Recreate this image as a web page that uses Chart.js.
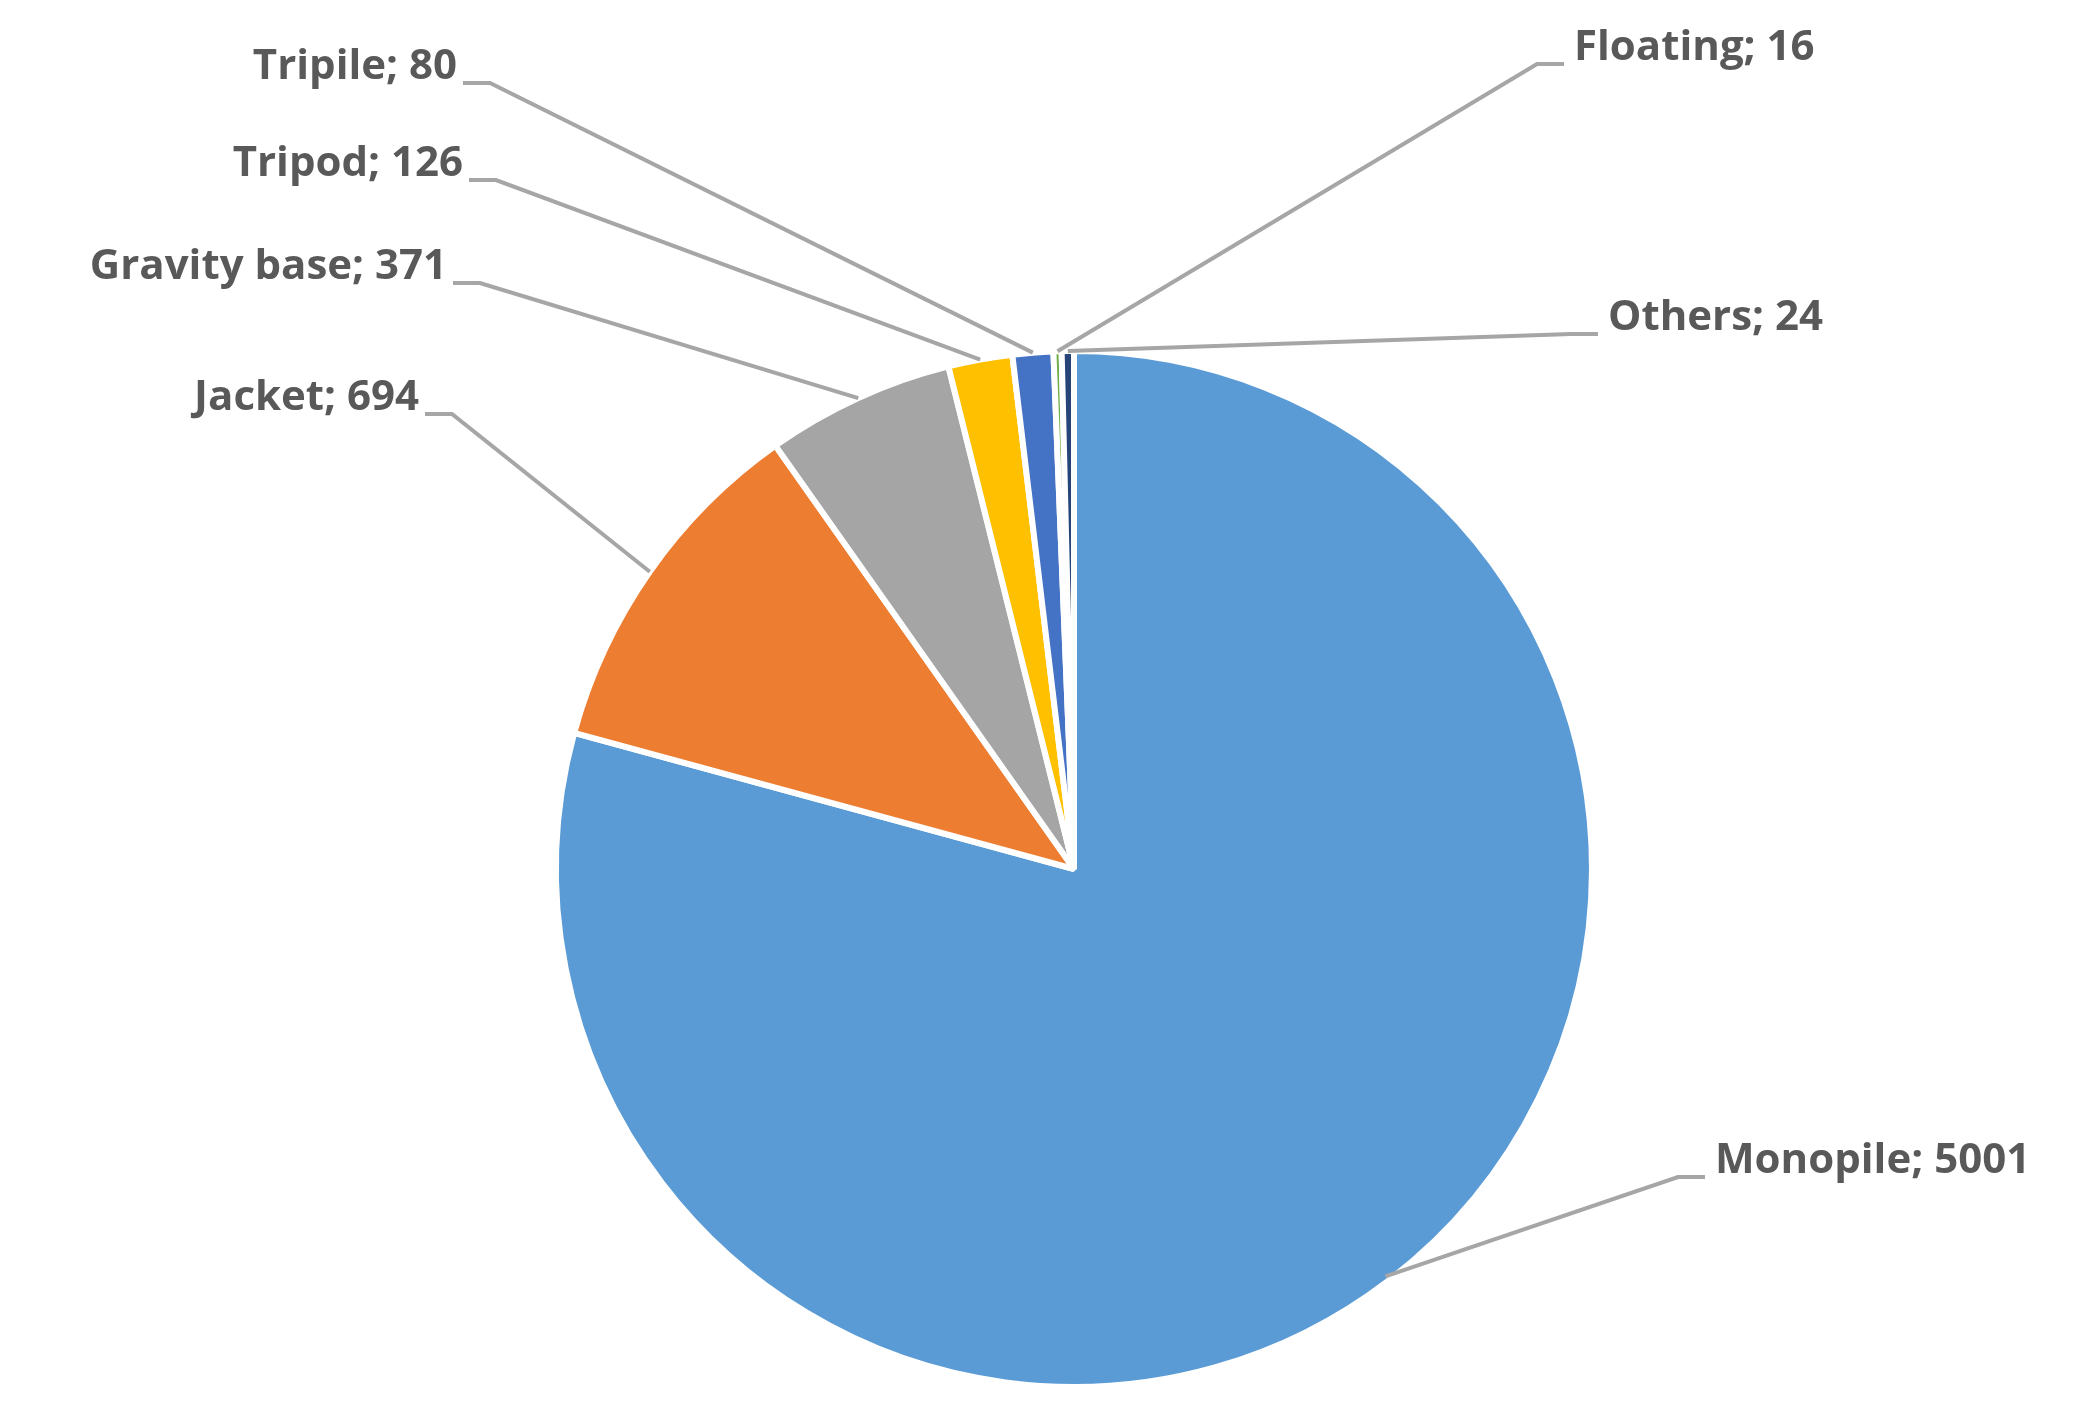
<!DOCTYPE html>
<html lang="en">
    <head>
        <title> Foundation types </title>
        <script src="https://cdn.jsdelivr.net/npm/chart.js@4.4.1/dist/chart.umd.min.js"></script>
        <style>
            html, body { margin: 0; padding: 0; background: #ffffff; }
        </style>
    </head>

    <body>
        <canvas id="myChart" width="2086" height="1402"></canvas>
        <script>

            const categories = ['Monopile', 'Jacket', 'Gravity base', 'Tripod', 'Tripile', 'Floating', 'Others'];
            const counts = [5001, 694, 371, 126, 80, 16, 24];
            const colors = ['#5B9BD5', '#ED7D31', '#A5A5A5', '#FFC000', '#4472C4', '#70AD47', '#264478'];

            // where each label sits: text anchor x, y, side, and the short horizontal elbow
            const labelPlaces = [
                { x: 1718, y: 1177, side: 'right', elbow: [1678, 1705] },
                { x: 417, y: 414, side: 'left', elbow: [425, 452] },
                { x: 445, y: 283, side: 'left', elbow: [453, 480] },
                { x: 461, y: 180, side: 'left', elbow: [469, 496] },
                { x: 455, y: 83, side: 'left', elbow: [463, 490] },
                { x: 1578, y: 64, side: 'right', elbow: [1537, 1564] },
                { x: 1611, y: 334, side: 'right', elbow: [1571, 1598] }
            ];

            const leaderLabels = {
                id: 'leaderLabels',
                afterDatasetsDraw (chart) {
                    const ctx = chart.ctx;
                    const arcs = chart.getDatasetMeta(0).data;
                    ctx.save();
                    ctx.font = 'bold 42px "Open Sans"';
                    ctx.textBaseline = 'middle';
                    arcs.forEach((arc, i) => {
                        const place = labelPlaces[i];
                        const mid = (arc.startAngle + arc.endAngle) / 2;
                        const r = arc.outerRadius * (i === 0 ? 0.99 : 1.0);
                        const px = arc.x + Math.cos(mid) * r;
                        const py = arc.y + Math.sin(mid) * r;
                        const near = place.side === 'left' ? place.elbow[1] : place.elbow[0];
                        const far = place.side === 'left' ? place.elbow[0] : place.elbow[1];
                        ctx.strokeStyle = '#A6A6A6';
                        ctx.lineWidth = 4;
                        ctx.beginPath();
                        ctx.moveTo(px, py);
                        ctx.lineTo(near, place.y);
                        ctx.lineTo(far, place.y);
                        ctx.stroke();
                        ctx.fillStyle = '#595959';
                        ctx.textAlign = place.side === 'left' ? 'right' : 'left';
                        const tx = place.side === 'left' ? place.elbow[0] - 6 : place.elbow[1] + 10;
                        ctx.fillText(categories[i] + '; ' + counts[i], tx, place.y - 16);
                    });
                    ctx.restore();
                }
            };

            new Chart(document.getElementById('myChart').getContext('2d'), {
                type: 'pie',
                data: {
                    labels: categories,
                    datasets: [{
                        data: counts,
                        backgroundColor: colors,
                        borderColor: '#ffffff',
                        borderWidth: 6
                    }]
                },
                options: {
                    responsive: false,
                    devicePixelRatio: 1,
                    animation: false,
                    layout: { padding: { left: 553, right: 491, top: 348, bottom: 12 } },
                    plugins: {
                        legend: { display: false },
                        tooltip: { enabled: false }
                    }
                },
                plugins: [leaderLabels]
            });

        </script>
    </body>
</html>
